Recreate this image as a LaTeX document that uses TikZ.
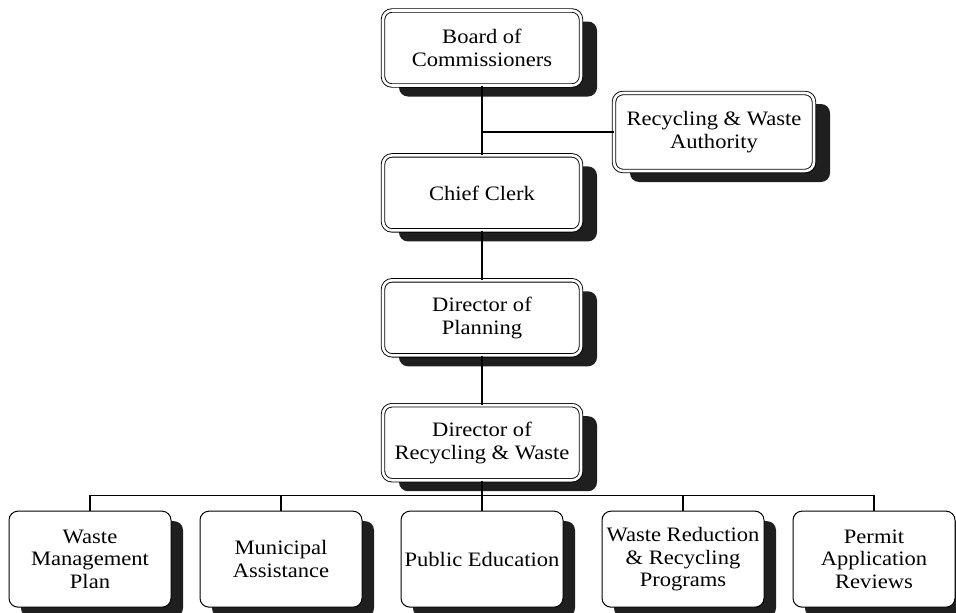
\documentclass[tikz,border=0pt]{standalone}
\usepackage{fontspec}
\setmainfont{Liberation Serif}[FakeStretch=1.1]
\usetikzlibrary{positioning,shadows,calc}

\begin{document}
\begin{tikzpicture}[x=1pt, y=1pt,
  office/.style={rectangle, rounded corners=9pt, draw=black, line width=0.9pt,
                 double=white, double distance=2.6pt, fill=white,
                 minimum width=198pt, minimum height=75pt, inner sep=2pt,
                 font=\fontsize{20.5}{23}\selectfont, align=center,
                 drop shadow={shadow xshift=16pt, shadow yshift=-11pt, opacity=1, fill=black!88}},
  unit/.style={rectangle, rounded corners=9pt, draw=black, line width=1pt, fill=white,
               minimum width=162pt, minimum height=96pt, inner sep=1pt,
               font=\fontsize{20.5}{22.5}\selectfont, align=center,
               drop shadow={shadow xshift=12pt, shadow yshift=-10pt, opacity=1, fill=black!88}},
  link/.style={line width=1.3pt},
  node distance=49pt
]
  \useasboundingbox (0,0) rectangle (956,-613);

  % chain of offices
  \node[office] (board) at (482,-48) {Board of\\Commissioners};
  \node[office, below=69pt of board] (clerk) {Chief Clerk};
  \node[office, below=of clerk] (planning) {Director of\\Planning};
  \node[office, below=of planning] (director) {Director of\\Recycling \& Waste};
  \node[office, minimum width=200pt, minimum height=78pt] (authority) at (714,-132) {Recycling \& Waste\\Authority};

  % programme units
  \node[unit, below=30pt of director] (education) {Public Education};
  \node[unit, left=38pt of education] (assist) {Municipal\\Assistance};
  \node[unit, left=28pt of assist] (plan) {Waste\\Management\\Plan};
  \node[unit, right=38pt of education] (reduction) {Waste Reduction\\\& Recycling\\Programs};
  \node[unit, right=28pt of reduction] (permit) {Permit\\Application\\Reviews};

  \draw[link] (board) -- (clerk);
  \draw[link] (board.south |- authority.west) -- (authority.west);
  \draw[link] (clerk) -- (planning);
  \draw[link] (planning) -- (director);

  \coordinate (bus) at ($(director.south)!0.5!(education.north)$);
  \draw[link] (director.south) -- (bus);
  \draw[link] (plan.north) |- (bus) -| (permit.north);
  \foreach \u in {assist, education, reduction}
    \draw[link] (\u.north) -- (\u.north |- bus);
\end{tikzpicture}
\end{document}
